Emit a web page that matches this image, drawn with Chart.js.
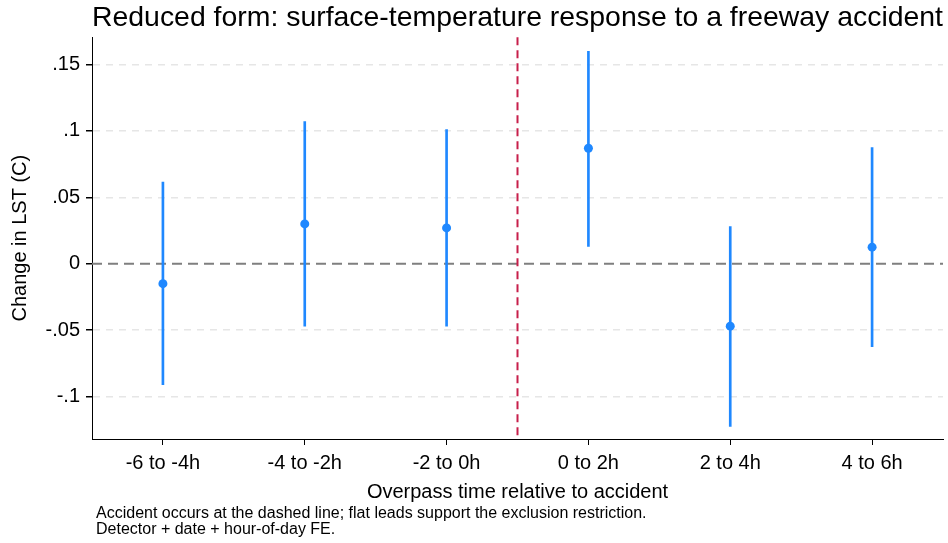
<!DOCTYPE html>
<html>
<head>
<meta charset="utf-8">
<script src="https://cdn.jsdelivr.net/npm/chart.js@4.4.1/dist/chart.umd.min.js"></script>
<style>
  html, body { margin: 0; padding: 0; background: #fff; }
  #wrap { width: 948px; height: 543px; position: relative; }
</style>
</head>
<body>
<div id="wrap"><canvas id="chart"></canvas></div>
<script>
const categories = ['-6 to -4h', '-4 to -2h', '-2 to 0h', '0 to 2h', '2 to 4h', '4 to 6h'];
const estimates = [-0.015, 0.030, 0.027, 0.087, -0.047, 0.0125];
const ciLow = [-0.091, -0.047, -0.047, 0.013, -0.1225, -0.0625];
const ciHigh = [0.0615, 0.107, 0.101, 0.160, 0.028, 0.0875];
const yTicks = [-0.1, -0.05, 0, 0.05, 0.1, 0.15];
const yTickLabels = ['-.1', '-.05', '0', '.05', '.1', '.15'];
const notes = [
    'Accident occurs at the dashed line; flat leads support the exclusion restriction.',
    'Detector + date + hour-of-day FE.'
];
const accidentAt = 2.5; // between '-2 to 0h' and '0 to 2h'

const FONT = 'Liberation Sans, Arial, Helvetica, sans-serif';
const BLUE = '#1f88ff';

// reference lines + notes
const extras = {
    id: 'extras',
    beforeDatasetsDraw(chart) {
        const { ctx, chartArea, scales } = chart;
        const y0 = scales.y.getPixelForValue(0);
        const xv = scales.x.getPixelForValue(accidentAt);
        ctx.save();
        ctx.lineWidth = 2;
        ctx.strokeStyle = '#7f7f7f';
        ctx.setLineDash([10, 6]);
        ctx.beginPath();
        ctx.moveTo(chartArea.left, y0);
        ctx.lineTo(chartArea.right, y0);
        ctx.stroke();

        ctx.strokeStyle = '#c71f4b';
        ctx.setLineDash([8, 5]);
        ctx.beginPath();
        ctx.moveTo(xv, chartArea.top);
        ctx.lineTo(xv, chartArea.bottom);
        ctx.stroke();
        ctx.restore();
    },
    afterDraw(chart) {
        const { ctx } = chart;
        ctx.save();
        ctx.fillStyle = '#000';
        ctx.font = '16px ' + FONT;
        ctx.textBaseline = 'middle';
        ctx.textAlign = 'left';
        notes.forEach((t, i) => ctx.fillText(t, 96, 514 + i * 16));
        ctx.restore();
    }
};

new Chart(document.getElementById('chart'), {
    type: 'bar',
    data: {
        labels: categories,
        datasets: [{
            type: 'line',
            data: estimates,
            showLine: false,
            pointRadius: 4.5,
            pointBackgroundColor: BLUE,
            pointBorderWidth: 0,
            order: 0
        }, {
            type: 'bar',
            data: ciLow.map((lo, i) => [lo, ciHigh[i]]),
            backgroundColor: BLUE,
            barThickness: 2,
            order: 1
        }]
    },
    options: {
        responsive: true,
        maintainAspectRatio: false,
        animation: false,
        layout: { padding: { left: 0, right: 5, top: 0, bottom: 39 } },
        plugins: {
            legend: { display: false },
            tooltip: { enabled: false },
            title: {
                display: true,
                fullSize: false,
                text: 'Reduced form: surface-temperature response to a freeway accident',
                color: '#000',
                font: { family: FONT, size: 28.5, weight: 'normal', lineHeight: 1.1 },
                padding: { top: 2, bottom: 4 }
            }
        },
        scales: {
            x: {
                offset: true,
                grid: { offset: false, drawOnChartArea: false, drawTicks: true, tickLength: 6, tickColor: '#000' },
                border: { color: '#000', width: 1 },
                ticks: { color: '#000', padding: 6, font: { family: FONT, size: 20 } },
                title: {
                    display: true,
                    text: 'Overpass time relative to accident',
                    color: '#000',
                    font: { family: FONT, size: 20 },
                    padding: { top: 2, bottom: 0 }
                },
                afterFit(axis) { axis.height = 65; }
            },
            y: {
                min: -0.132,
                max: 0.1705,
                afterBuildTicks(axis) { axis.ticks = yTicks.map(v => ({ value: v })); },
                grid: {
                    color: ctx => (ctx.tick && ctx.tick.value === 0) ? 'rgba(0,0,0,0)' : '#e6e6e6',
                    lineWidth: 1.5,
                    drawTicks: true,
                    tickLength: 6,
                    tickColor: '#000'
                },
                border: { color: '#000', width: 1, dash: [7, 6] },
                ticks: {
                    color: '#000',
                    padding: 6,
                    font: { family: FONT, size: 20 },
                    callback: (v, i) => yTickLabels[i]
                },
                title: {
                    display: true,
                    text: 'Change in LST (C)',
                    color: '#000',
                    font: { family: FONT, size: 20 },
                    padding: { top: 8, bottom: 0 }
                },
                afterFit(axis) { axis.width = 92; }
            }
        }
    },
    plugins: [extras]
});
</script>
</body>
</html>
